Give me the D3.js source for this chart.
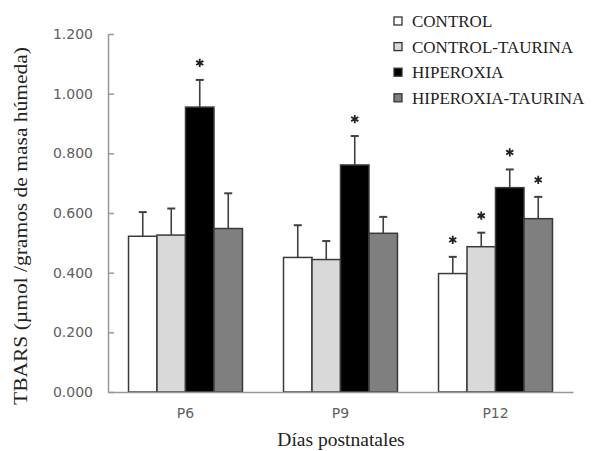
<!DOCTYPE html>
<html><head><meta charset="utf-8">
<script src="https://cdn.jsdelivr.net/npm/d3@7"></script>
<style>body{margin:0;background:#fff}svg{display:block}.serif{font-family:"Liberation Serif","Times New Roman","DejaVu Serif",serif}</style>
</head><body>
<svg id="chart" width="598" height="451"></svg>
<script>
const categories = ["P6", "P9", "P12"];
const series = ["CONTROL", "CONTROL-TAURINA", "HIPEROXIA", "HIPEROXIA-TAURINA"];
const seriesColors = ["#ffffff", "#d9d9d9", "#000000", "#7f7f7f"];
const means = {
  "CONTROL":           [0.522, 0.451, 0.397],
  "CONTROL-TAURINA":   [0.526, 0.444, 0.487],
  "HIPEROXIA":         [0.955, 0.761, 0.685],
  "HIPEROXIA-TAURINA": [0.548, 0.532, 0.581]
};
const errors = {
  "CONTROL":           [0.081, 0.108, 0.056],
  "CONTROL-TAURINA":   [0.089, 0.062, 0.047],
  "HIPEROXIA":         [0.091, 0.097, 0.061],
  "HIPEROXIA-TAURINA": [0.118, 0.055, 0.073]
};
const significant = {
  "CONTROL":           [false, false, true],
  "CONTROL-TAURINA":   [false, false, true],
  "HIPEROXIA":         [true, true, true],
  "HIPEROXIA-TAURINA": [false, false, true]
};
const yTicks = [0, 0.2, 0.4, 0.6, 0.8, 1.0, 1.2];
const yLabel = "TBARS (µmol /gramos de masa húmeda)";
const xLabel = "Días postnatales";

const svg = d3.select("#chart");
const mLeft = 108, mRight = 573, mTop = 34, mBottom = 392;

const x0 = d3.scaleBand().domain(categories).range([mLeft, mRight]).padding(0);
const x1 = d3.scaleBand().domain(series).range([0, x0.bandwidth()]).paddingInner(0).paddingOuter(0.72);
const y = d3.scaleLinear().domain([0, 1.2]).range([mBottom, mTop]);

const data = [];
categories.forEach((c, ci) => series.forEach((s, si) => {
  data.push({cat: c, ser: s, color: seriesColors[si], v: means[s][ci], e: errors[s][ci], sig: significant[s][ci]});
}));

// error bars
const eb = svg.append("g").attr("stroke", "#404040").attr("stroke-width", 1.6);
data.forEach(d => {
  const cx = x0(d.cat) + x1(d.ser) + x1.bandwidth() / 2;
  eb.append("line").attr("x1", cx).attr("x2", cx).attr("y1", y(d.v)).attr("y2", y(d.v + d.e));
  eb.append("line").attr("x1", cx - 4).attr("x2", cx + 4).attr("y1", y(d.v + d.e)).attr("y2", y(d.v + d.e)).attr("stroke-width", 2);
});

// bars
svg.append("g").selectAll("rect").data(data).join("rect")
  .attr("x", d => x0(d.cat) + x1(d.ser))
  .attr("y", d => y(d.v))
  .attr("width", x1.bandwidth())
  .attr("height", d => y(0) - y(d.v))
  .attr("fill", d => d.color)
  .attr("stroke", "#3a3a3a")
  .attr("stroke-width", 1.5);

// significance stars
const star = d3.symbol().type(d3.symbolAsterisk).size(48);
svg.append("g").selectAll("path").data(data.filter(d => d.sig)).join("path")
  .attr("d", star)
  .attr("transform", d => `translate(${x0(d.cat) + x1(d.ser) + x1.bandwidth() / 2},${y(d.v + d.e) - 17})`)
  .attr("fill", "none").attr("stroke", "#222").attr("stroke-width", 1.8);

// y axis
const yAxis = svg.append("g").attr("transform", `translate(${mLeft},0)`)
  .call(d3.axisLeft(y).tickValues(yTicks).tickFormat(d3.format(".3f")).tickSizeInner(-6).tickSizeOuter(0).tickPadding(15));
yAxis.select(".domain").attr("stroke", "#999").attr("stroke-width", 1.5);
yAxis.selectAll(".tick line").attr("stroke", "#999").attr("stroke-width", 1.5);
yAxis.selectAll(".tick text").attr("font-family", "DejaVu Sans").attr("font-size", 14).attr("fill", "#606060");

// x axis
const xAxis = svg.append("g").attr("transform", `translate(0,${mBottom})`)
  .call(d3.axisBottom(x0).tickSize(0).tickPadding(16));
xAxis.select(".domain").attr("stroke", "#999").attr("stroke-width", 1.5);
xAxis.selectAll(".tick text").attr("font-family", "DejaVu Sans").attr("font-size", 14).attr("fill", "#606060");

// axis titles
svg.append("text").attr("class", "serif").attr("transform", `translate(27,226) rotate(-90)`)
  .attr("text-anchor", "middle").style("font-size", "18px")
  .attr("fill", "#222").attr("textLength", 358).attr("lengthAdjust", "spacingAndGlyphs").text(yLabel);
svg.append("text").attr("class", "serif").attr("x", 341).attr("y", 446).attr("text-anchor", "middle")
  .style("font-size", "19.5px").attr("fill", "#222").text(xLabel);

// legend
const lg = svg.append("g");
series.forEach((s, i) => {
  const cy = 21 + i * 25.6;
  lg.append("rect").attr("x", 394).attr("y", cy - 4).attr("width", 8).attr("height", 8)
    .attr("fill", seriesColors[i]).attr("stroke", "#333").attr("stroke-width", 1.3);
  lg.append("text").attr("class", "serif").attr("x", 412).attr("y", cy + 6)
    .style("font-size", "17px").attr("fill", "#222").text(s);
});
</script>
</body></html>
